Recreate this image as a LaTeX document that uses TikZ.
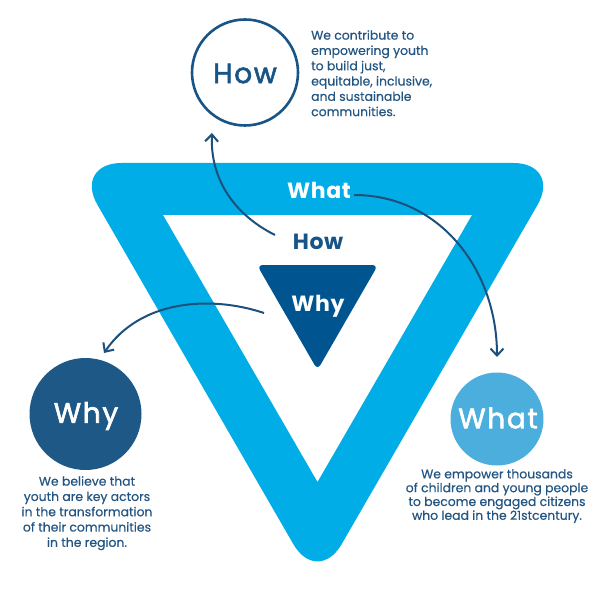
\documentclass[tikz,border=0pt]{standalone}
\usepackage{fontspec}
\setmainfont{Poppins}
\newfontfamily\circfont{Poppins}[FakeBold=2.2,LetterSpace=6]
\newfontfamily\bodyfont{Poppins}[FakeBold=0.5]
\newfontfamily\bandfont{Poppins}[LetterSpace=3]
\usetikzlibrary{arrows.meta}
\definecolor{band}{RGB}{0,173,230}
\definecolor{darktri}{RGB}{0,84,143}
\definecolor{navy}{RGB}{24,84,134}
\definecolor{whyc}{RGB}{30,88,135}
\definecolor{whatc}{RGB}{76,174,220}
\definecolor{bodyc}{RGB}{35,85,130}
\definecolor{arrowc}{RGB}{30,80,125}
\tikzset{
  band label/.style={font=\bandfont\bfseries\fontsize{22}{22}\selectfont, inner sep=0pt},
  circle label/.style={font=\circfont\fontsize{28}{28}\selectfont, inner sep=0pt},
  bodytext/.style={text=bodyc, font=\bodyfont\fontsize{12.4}{15.3}\selectfont, inner sep=0pt},
  connector/.style={draw=arrowc, line width=2pt, -{Straight Barb[length=7pt,width=13pt,line width=2pt]}},
}
\begin{document}
\begin{tikzpicture}[x=1pt,y=-1pt]
\useasboundingbox (0,0) rectangle (601,601);
% big triangle band
\fill[band, even odd rule]
  [rounded corners=48.5pt] (73.3,163) -- (561.7,163) -- (317.5,586) -- cycle
  [sharp corners] (163,215) -- (472,215) -- (317.5,482) -- cycle;
% small dark triangle
\fill[darktri, rounded corners=6pt] (257,265) -- (378,265) -- (317.5,370) -- cycle;
% labels in the triangle
\node[band label, text=white] (tWhat) at (319,190) {What};
\node[band label, text=navy] (tHow) at (318,242) {How};
\node[band label, text=white] (tWhy) at (318,306) {Why};
% circles
\node[circle, draw=navy, line width=2.6pt, minimum size=106pt, inner sep=0pt] (howC) at (245,72.5) {};
\node[circle label, text=navy] (howL) at (245,73.5) {How};
\node[circle, fill=whyc, minimum size=112pt, inner sep=0pt] (whyC) at (85.5,414) {};
\node[circle label, text=white] (whyL) at (86,416) {Why};
\node[circle, fill=whatc, minimum size=93pt, inner sep=0pt] (whatC) at (497,419) {};
\node[circle label, text=white] (whatL) at (498,418) {What};
% descriptions
\node[bodytext, align=left, anchor=north west] (howT) at (311,30) {We contribute to\\empowering youth\\to build just,\\equitable, inclusive,\\and sustainable\\communities.};
\node[bodytext, align=center, anchor=north] (whyT) at (87,476) {We believe that\\youth are key actors\\in the transformation\\of their communities\\in the region.};
\node[bodytext, align=center, anchor=north, font=\bodyfont\fontsize{12.4}{13.8}\selectfont] (whatT) at (497,469) {We empower thousands\\of children and young people\\to become engaged citizens\\who lead in the 21stcentury.};
% connector end points
\coordinate (s1) at (275,235);
\coordinate (e1) at (212,133);
\coordinate (s2) at (354,195);
\coordinate (e2) at (497,357);
\coordinate (s3) at (264,313);
\coordinate (e3) at (104,353);
\draw[connector] (s1) .. controls (235,215) and (210,180) .. (e1);
\draw[connector] (s2) .. controls (440,195) and (497,270) .. (e2);
\draw[connector] (s3) .. controls (210,295) and (140,300) .. (e3);
\end{tikzpicture}
\end{document}
